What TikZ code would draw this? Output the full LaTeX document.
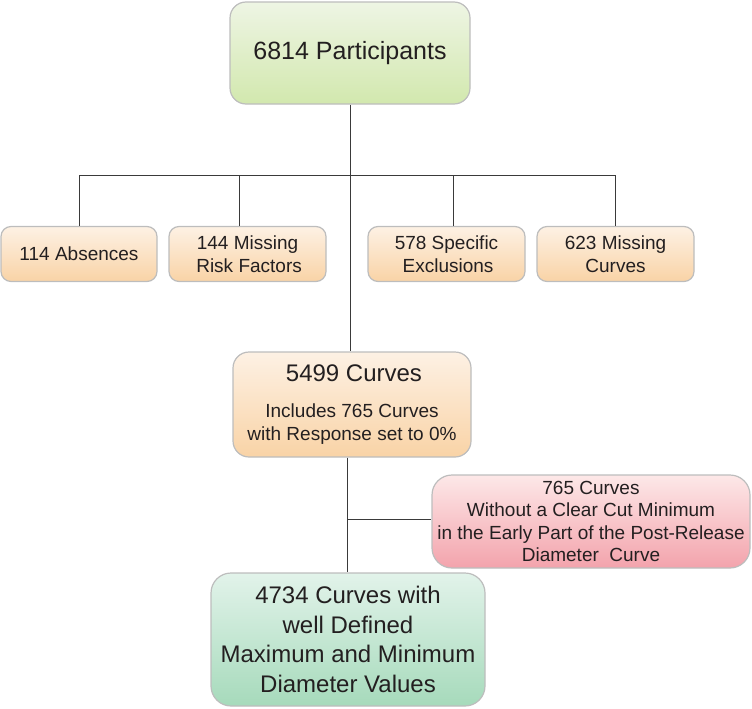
\documentclass[tikz,border=0pt]{standalone}
\usepackage{fontspec}
\setmainfont{Liberation Sans}
\definecolor{edge}{HTML}{BDBDBD}
\definecolor{conn}{HTML}{3A3A3A}
\definecolor{gtop}{HTML}{EEF5E4}
\definecolor{gmid}{HTML}{E6F1D6}
\definecolor{gbot}{HTML}{D2E8AE}
\definecolor{otop}{HTML}{FDF1E4}
\definecolor{omid}{HTML}{FCE8D2}
\definecolor{obot}{HTML}{F9D3A6}
\definecolor{rtop}{HTML}{FDE8E8}
\definecolor{rmid}{HTML}{FAD3D5}
\definecolor{rbot}{HTML}{F3A3AC}
\definecolor{ttop}{HTML}{E2F3EA}
\definecolor{tmid}{HTML}{D4EDE0}
\definecolor{tbot}{HTML}{A6DABB}
\definecolor{txt}{HTML}{231F20}
\tikzset{
  x=1pt, y=1pt,
  box/.style={draw=edge, line width=1.2pt, text=txt, align=center, inner sep=2pt},
  greenbox/.style={box, top color=gtop, middle color=gmid, bottom color=gbot},
  orangebox/.style={box, top color=otop, middle color=omid, bottom color=obot},
  redbox/.style={box, top color=rtop, middle color=rmid, bottom color=rbot},
  tealbox/.style={box, top color=ttop, middle color=tmid, bottom color=tbot},
  link/.style={draw=conn, line width=1pt},
  big/.style={font=\fontsize{25}{30}\selectfont},
  med/.style={font=\fontsize{24}{29.5}\selectfont},
  small/.style={font=\fontsize{19}{23}\selectfont}
}
\begin{document}
\begin{tikzpicture}
\useasboundingbox (0,0) rectangle (752,-709);
% top
\node[greenbox, big, rounded corners=16pt, minimum width=240pt, minimum height=102pt]
  (top) at (350,-53) {6814 Participants};
% small boxes
\node[orangebox, small, rounded corners=10pt, minimum width=156pt, minimum height=55pt]
  (b1) at (79,-254) {114 Absences};
\node[orangebox, small, rounded corners=10pt, minimum width=157pt, minimum height=55pt]
  (b2) at (247.5,-254) {144 Missing\\ \,Risk Factors};
\node[orangebox, small, rounded corners=10pt, minimum width=157pt, minimum height=55pt]
  (b3) at (446.5,-254) {578 Specific\\ \,Exclusions};
\node[orangebox, small, rounded corners=10pt, minimum width=157pt, minimum height=55pt]
  (b4) at (615.5,-254) {623 Missing\\ Curves};
% middle
\node[orangebox, small, rounded corners=16pt, minimum width=238pt, minimum height=105pt]
  (mid) at (352,-404.5) {{\fontsize{24}{28}\selectfont \,5499 Curves}\\[13pt]
  Includes 765 Curves\\ with Response set to 0\%};
% red
\node[redbox, font=\fontsize{19}{22.5}\selectfont, rounded corners=20pt, minimum width=318pt, minimum height=93pt]
  (red) at (591,-521.5) {765 Curves\\ Without a Clear Cut Minimum\\ in the Early Part of the Post-Release\\ Diameter\ \ Curve};
% bottom
\node[tealbox, med, rounded corners=20pt, minimum width=274pt, minimum height=133pt]
  (bot) at (348,-639.5) {4734 Curves with\\ well Defined\\ Maximum and Minimum\\ Diameter Values};
% connectors
\coordinate (hl) at (79,-175);
\coordinate (hr) at (615,-175);
\coordinate (d2) at (239,-175);
\coordinate (d3) at (453,-175);
\draw[link] (hl) -- (hr);
\draw[link] (hl) -- (hl |- b1.north);
\draw[link] (d2) -- (d2 |- b2.north);
\draw[link] (d3) -- (d3 |- b3.north);
\draw[link] (hr) -- (hr |- b4.north);
\draw[link] (top.south) -- (top.south |- mid.north);
\coordinate (v2) at (347,-519);
\draw[link] (v2 |- mid.south) -- (v2 |- bot.north);
\draw[link] (v2) -- (v2 -| red.west);
\end{tikzpicture}
\end{document}
